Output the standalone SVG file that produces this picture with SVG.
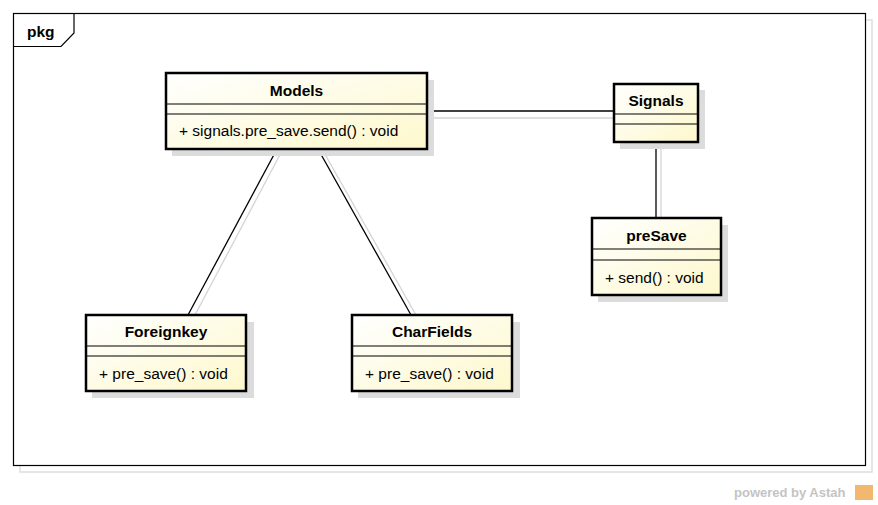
<svg xmlns="http://www.w3.org/2000/svg" width="878" height="505" viewBox="0 0 878 505">
<defs>
<linearGradient id="fill" x1="0" y1="0" x2="1" y2="1">
<stop offset="0" stop-color="#ffffff"/>
<stop offset="1" stop-color="#fdf8cc"/>
</linearGradient>
</defs>
<style>
.shadow{fill:#dcdcdc;stroke:none}
.box{fill:url(#fill);stroke:#000;stroke-width:2.5}
.sep{stroke:#000;stroke-width:1}
.name{font-family:"Liberation Sans",Arial,sans-serif;font-size:15.5px;font-weight:bold;text-anchor:middle;fill:#000}
.op{font-family:"Liberation Sans",Arial,sans-serif;font-size:15.5px;fill:#000}
.conn{stroke:#000;stroke-width:1.3;fill:none}
.connsh{stroke:#d4d4d4;stroke-width:1.3;fill:none}
</style>
<rect width="878" height="505" fill="#fff"/>
<g id="frame">
<rect x="20" y="20" width="852" height="452" fill="none" stroke="#dedede" stroke-width="1.5"/>
<rect x="13.5" y="13.5" width="852" height="452" fill="#fff" stroke="#000" stroke-width="1.2"/>
<path d="M13.5 46.5 H61 L74 33 V13.5" fill="none" stroke="#000" stroke-width="1.2"/>
<text x="27" y="37" font-family="'Liberation Sans',Arial,sans-serif" font-size="15.5" font-weight="bold">pkg</text>
</g>
<g id="connectors">
<line class="connsh" x1="427" y1="118" x2="614" y2="118"/>
<line class="connsh" x1="661" y1="142" x2="661" y2="218"/>
<line class="connsh" x1="283" y1="149" x2="195" y2="315"/>
<line class="connsh" x1="322" y1="149" x2="416" y2="315"/>
<line class="conn" x1="427" y1="111" x2="614" y2="111"/>
<line class="conn" x1="656" y1="142" x2="656" y2="218"/>
<line class="conn" x1="277" y1="149" x2="188" y2="315"/>
<line class="conn" x1="318" y1="149" x2="411" y2="315"/>
</g>
<g id="Models">
<rect class="shadow" x="172" y="80" width="262" height="76"/>
<rect class="box" x="166" y="73" width="261" height="76"/>
<line class="sep" x1="166" y1="104" x2="427" y2="104"/>
<line class="sep" x1="166" y1="114" x2="427" y2="114"/>
<text class="name" x="296.5" y="96">Models</text>
<text class="op" x="179" y="136">+ signals.pre_save.send() : void</text>
</g>
<g id="Signals">
<rect class="shadow" x="620" y="90" width="85" height="59"/>
<rect class="box" x="614" y="84" width="84" height="58"/>
<line class="sep" x1="614" y1="114" x2="698" y2="114"/>
<line class="sep" x1="614" y1="124" x2="698" y2="124"/>
<text class="name" x="656" y="106">Signals</text>
</g>
<g id="preSave">
<rect class="shadow" x="598" y="225" width="130" height="77"/>
<rect class="box" x="592" y="218" width="129" height="77"/>
<line class="sep" x1="592" y1="249" x2="721" y2="249"/>
<line class="sep" x1="592" y1="260" x2="721" y2="260"/>
<text class="name" x="656.5" y="241">preSave</text>
<text class="op" x="605" y="283">+ send() : void</text>
</g>
<g id="Foreignkey">
<rect class="shadow" x="92" y="322" width="162" height="76"/>
<rect class="box" x="86" y="315" width="160" height="76"/>
<line class="sep" x1="86" y1="346" x2="246" y2="346"/>
<line class="sep" x1="86" y1="356" x2="246" y2="356"/>
<text class="name" x="166" y="337">Foreignkey</text>
<text class="op" x="99" y="379">+ pre_save() : void</text>
</g>
<g id="CharFields">
<rect class="shadow" x="358" y="322" width="162" height="76"/>
<rect class="box" x="352" y="315" width="160" height="76"/>
<line class="sep" x1="352" y1="346" x2="512" y2="346"/>
<line class="sep" x1="352" y1="356" x2="512" y2="356"/>
<text class="name" x="432" y="337">CharFields</text>
<text class="op" x="365" y="379">+ pre_save() : void</text>
</g>
<g id="watermark">
<text x="734" y="497" font-family="'Liberation Sans',Arial,sans-serif" font-size="13" font-weight="bold" fill="#c4c4c4">powered by Astah</text>
<rect x="855" y="485" width="18" height="15" fill="#f3b870"/>
</g>
</svg>
